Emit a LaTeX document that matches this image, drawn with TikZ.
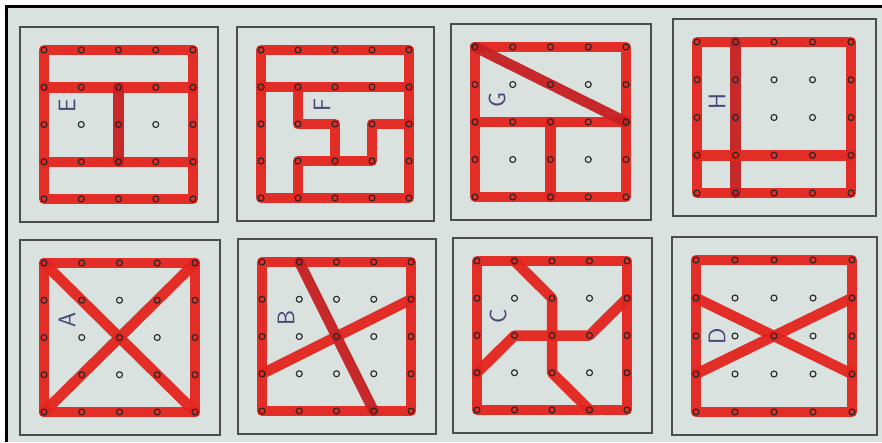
\documentclass[tikz,border=0pt]{standalone}
\usepackage{xcolor}
\usetikzlibrary{calc}

\definecolor{paper}{RGB}{218,226,224}
\definecolor{bandred}{RGB}{228,36,30}
\definecolor{banddark}{RGB}{198,32,34}
\definecolor{ink}{RGB}{72,70,118}

\begin{document}
\begin{tikzpicture}[x=1pt, y=-1pt,
    board/.style={draw=black!70, line width=1.3pt},
    band/.style={draw=bandred, line width=10.5pt, line cap=round, line join=round, opacity=0.95},
    darkband/.style={band, draw=banddark},
    pin/.style={draw=black!85, line width=1.1pt},
    tag/.style={text=ink, rotate=90, inner sep=0pt, font=\sffamily\fontsize{24}{24}\selectfont}
]
    \useasboundingbox (0,0) rectangle (882,442);
    \fill[white] (0,0) rectangle (882,442);
    \fill[paper] (8,8) rectangle (882,442);
    \draw[black, line width=3pt] (6.5,442) -- (6.5,6.5) -- (882,6.5);

    \foreach \b/\x/\y/\sx/\sy in {E/44/50/37.25/37.25, F/261/50/37/37, G/475/47/37.75/37.5, H/697/42/38.5/37.75,
                                  A/44/263/37.75/37.25, B/262/262/37.25/37.25, C/477/261/37.5/37.25, D/696/260/39/38}{
        \foreach \i in {0,...,4}
            \foreach \j in {0,...,4}
                \coordinate (\b-\i-\j) at ({\x+\i*\sx},{\y+\j*\sy});
        \draw[board] ({\x-24},{\y-23}) rectangle ({\x+4*\sx+25},{\y+4*\sy+23});
    }

    \foreach \b in {E,F,G,H,A,B,C,D}
        \draw[band] (\b-0-0) -- (\b-4-0) -- (\b-4-4) -- (\b-0-4) -- cycle;

    \draw[band] (E-0-1) -- (E-4-1);
    \draw[band] (E-0-3) -- (E-4-3);
    \draw[darkband] (E-2-1) -- (E-2-3);

    \draw[band] (F-0-1) -- (F-4-1);
    \draw[band] (F-1-1) -- (F-1-2) -- (F-2-2) -- (F-2-3);
    \draw[band] (F-1-4) -- (F-1-3) -- (F-3-3) -- (F-3-2) -- (F-4-2);

    \draw[band] (G-0-2) -- (G-4-2);
    \draw[darkband] (G-0-0) -- (G-4-2);
    \draw[band] (G-2-2) -- (G-2-4);

    \draw[darkband] (H-1-0) -- (H-1-4);
    \draw[band] (H-0-3) -- (H-4-3);

    \draw[band] (A-0-0) -- (A-4-4);
    \draw[band] (A-4-0) -- (A-0-4);

    \draw[band] (B-0-3) -- (B-4-1);
    \draw[darkband] (B-1-0) -- (B-3-4);

    \draw[band] (C-1-0) -- (C-2-1) -- (C-2-3) -- (C-3-4);
    \draw[band] (C-0-3) -- (C-1-2) -- (C-3-2) -- (C-4-1);

    \draw[band] (D-0-1) -- (D-4-3);
    \draw[band] (D-0-3) -- (D-4-1);

    \foreach \b in {E,F,G,H,A,B,C,D}
        \foreach \i in {0,...,4}
            \foreach \j in {0,...,4}
                \draw[pin] (\b-\i-\j) circle (3);

    \node[tag] (tagE) at (67,106) {E};
    \node[tag] (tagF) at (322,105) {F};
    \node[tag] (tagG) at (497,100) {G};
    \node[tag] (tagH) at (717,102) {H};
    \node[tag] (tagA) at (67,320) {A};
    \node[tag] (tagB) at (286,318) {B};
    \node[tag] (tagC) at (498,316) {C};
    \node[tag] (tagD) at (717,336) {D};
\end{tikzpicture}
\end{document}
